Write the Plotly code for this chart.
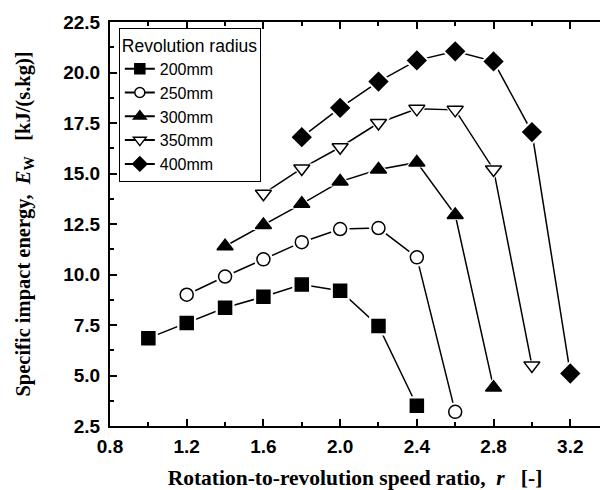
import plotly.graph_objects as go

# Data
series_names = ["200mm", "250mm", "300mm", "350mm", "400mm"]
x_200 = [1.0, 1.2, 1.4, 1.6, 1.8, 2.0, 2.2, 2.4]
y_200 = [6.85, 7.6, 8.35, 8.9, 9.5, 9.2, 7.45, 3.5]
x_250 = [1.2, 1.4, 1.6, 1.8, 2.0, 2.2, 2.4, 2.6]
y_250 = [9.0, 9.9, 10.75, 11.6, 12.25, 12.3, 10.85, 3.2]
x_300 = [1.4, 1.6, 1.8, 2.0, 2.2, 2.4, 2.6, 2.8]
y_300 = [11.4, 12.45, 13.5, 14.6, 15.2, 15.55, 12.95, 4.4]
x_350 = [1.6, 1.8, 2.0, 2.2, 2.4, 2.6, 2.8, 3.0]
y_350 = [14.0, 15.25, 16.3, 17.5, 18.2, 18.15, 15.2, 5.5]
x_400 = [1.8, 2.0, 2.2, 2.4, 2.6, 2.8, 3.0, 3.2]
y_400 = [16.8, 18.25, 19.55, 20.6, 21.05, 20.55, 17.05, 5.1]

x_ticks = [0.8, 1.2, 1.6, 2.0, 2.4, 2.8, 3.2]
y_ticks = [2.5, 5.0, 7.5, 10.0, 12.5, 15.0, 17.5, 20.0, 22.5]

xs = [x_200, x_250, x_300, x_350, x_400]
ys = [y_200, y_250, y_300, y_350, y_400]
symbols = ["square", "circle", "triangle-up", "triangle-down", "diamond"]
fills = ["black", "white", "black", "white", "black"]
sizes = [13, 13, 14, 14, 14]

fig = go.Figure()
for name, x, y, sym, fc, sz in zip(series_names, xs, ys, symbols, fills, sizes):
    fig.add_trace(go.Scatter(x=x, y=y, mode="lines", line=dict(color="black", width=1.5),
                             showlegend=False, hoverinfo="skip"))
    fig.add_trace(go.Scatter(x=x, y=y, mode="markers",
                             marker=dict(symbol=sym, size=sz + 6, color="white", line=dict(width=0)),
                             showlegend=False, hoverinfo="skip"))
    fig.add_trace(go.Scatter(x=x, y=y, mode="markers", name=name,
                             marker=dict(symbol=sym, size=sz, color=fc, line=dict(color="black", width=1.5)),
                             showlegend=False))
    fig.add_trace(go.Scatter(x=[None], y=[None], mode="lines+markers", name=name,
                             line=dict(color="black", width=2),
                             marker=dict(symbol=sym, size=sz - 3, color=fc, line=dict(color="black", width=1.5)),
                             showlegend=True))

tickfont = dict(family="Liberation Sans, Arial", size=19, color="black")
xtitlefont = dict(family="Liberation Serif, Times New Roman", size=21.5, color="black")
ytitlefont = dict(family="Liberation Serif, Times New Roman", size=20.5, color="black")

fig.update_layout(
    width=600, height=490,
    margin=dict(l=110, r=0, t=22, b=64),
    plot_bgcolor="white", paper_bgcolor="white",
    showlegend=True,
    legend=dict(
        x=0.018, y=0.985, xanchor="left", yanchor="top",
        bordercolor="black", borderwidth=1, bgcolor="white",
        font=dict(family="Liberation Sans, Arial", size=16, color="black"),
        title=dict(text="Revolution radius", font=dict(family="Liberation Sans, Arial", size=17.5, color="black")),
        tracegroupgap=0, itemwidth=30,
    ),
    xaxis=dict(
        range=[0.8, 3.355], tickvals=x_ticks, ticktext=[f"<b>{v:.1f}</b>" for v in x_ticks],
        ticks="inside", ticklen=7, tickwidth=2, tickcolor="black",
        minor=dict(dtick=0.2, tick0=0.8, ticks="inside", ticklen=4, tickwidth=2, tickcolor="black"),
        showline=True, linewidth=2, linecolor="black", mirror="ticks",
        showgrid=False, zeroline=False, tickfont=tickfont, ticklabelstandoff=2,
        title=dict(text="<b>Rotation-to-revolution speed ratio,  <i>r</i>   [-]</b>", font=xtitlefont, standoff=15),
    ),
    yaxis=dict(
        range=[2.5, 22.5], tickvals=y_ticks, ticktext=[f"<b>{v:.1f}</b>" for v in y_ticks],
        ticks="inside", ticklen=7, tickwidth=2, tickcolor="black",
        minor=dict(dtick=1.25, tick0=2.5, ticks="inside", ticklen=4, tickwidth=2, tickcolor="black"),
        showline=True, linewidth=2, linecolor="black", mirror=False,
        showgrid=False, zeroline=False, tickfont=tickfont, ticklabelstandoff=4,
        title=dict(text="<b>Specific impact energy,  <i>E</i><sub>W</sub>   [kJ/(s.kg)]</b>", font=ytitlefont, standoff=27),
    ),
    yaxis2=dict(
        overlaying="y", side="right", anchor="x", range=[2.5, 22.5], tickvals=y_ticks,
        ticks="inside", ticklen=3, tickwidth=2, tickcolor="black",
        showline=False, showgrid=False, zeroline=False, showticklabels=False,
    ),
)

fig.write_html("out.html")
